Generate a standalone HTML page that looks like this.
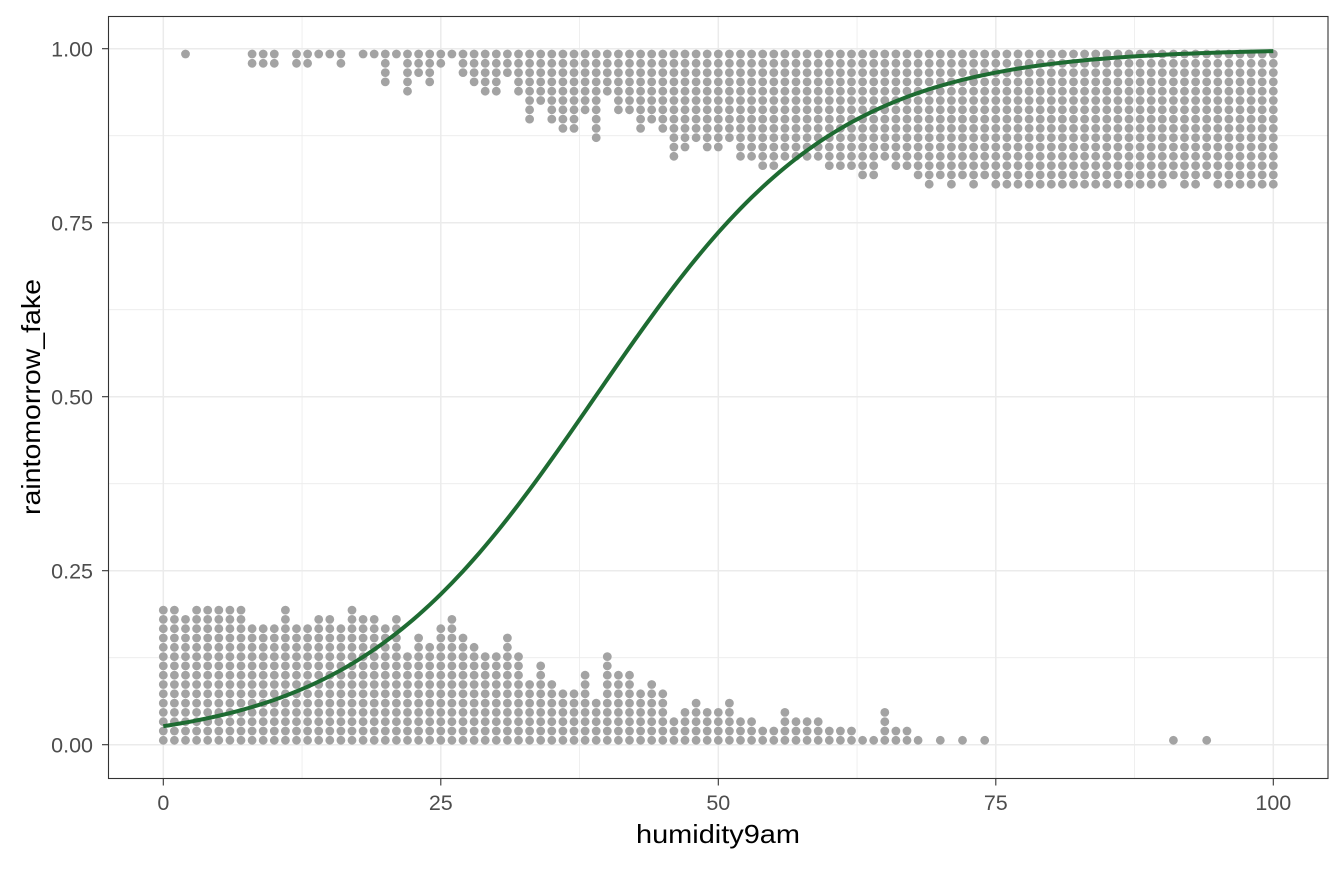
<!DOCTYPE html>
<html><head><meta charset="utf-8"><style>
body{margin:0;background:#fff;font-family:"Liberation Sans",Arial,sans-serif}
svg text{font-family:"Liberation Sans",Arial,sans-serif}
</style></head><body>
<svg id="chart" width="1344" height="864" xmlns="http://www.w3.org/2000/svg">
<rect width="1344" height="864" fill="#fff"/>
<g id="grid"></g>
<g id="dots"></g>
<g id="curve"></g>
<rect x="108.5" y="16.5" width="1219.5" height="762" fill="none" stroke="#333" stroke-width="1.1"/>
<g id="axes"></g>
<text x="718" y="843" text-anchor="middle" font-size="26" textLength="164" lengthAdjust="spacingAndGlyphs" fill="#000">humidity9am</text>
<text transform="translate(40,397) rotate(-90)" text-anchor="middle" font-size="26" textLength="236" lengthAdjust="spacingAndGlyphs" fill="#000">raintomorrow_fake</text>
</svg>
<script>
const xTicks=[0,25,50,75,100];
const yTicks=[0,0.25,0.5,0.75,1];
const yTickLabels=["0.00","0.25","0.50","0.75","1.00"];
// stacked dot counts per humidity value 0..100
const bottomCounts=[15,15,14,15,15,15,15,15,13,13,13,15,13,13,14,14,13,15,14,14,13,14,10,12,11,13,14,12,11,10,10,12,10,7,9,7,6,6,8,5,10,8,8,6,7,6,3,4,5,4,4,5,3,3,2,2,4,3,3,3,2,2,2,1,1,4,2,2,1,0,1,0,1,0,1,0,0,0,0,0,0,0,0,0,0,0,0,0,0,0,0,1,0,0,1,0,0,0,0,0,0];
const topCounts=[0,0,1,0,0,0,0,0,2,2,2,0,2,2,1,1,2,0,1,1,4,1,5,3,4,2,1,3,4,5,5,3,5,8,6,8,9,9,7,10,5,7,7,9,8,9,12,11,10,11,11,10,12,12,13,13,12,12,12,12,13,13,13,14,14,12,13,13,14,15,14,15,14,15,14,15,15,15,15,15,15,15,15,15,15,15,15,15,15,15,15,14,15,15,14,15,15,15,15,15,15];
const fitIntercept=-3.6, fitSlope=0.0925;
const NS="http://www.w3.org/2000/svg";
const X=v=>163.3+v*11.1;
const Y=v=>744.7-v*696;
const step=9.3, r=4.4;
function mk(t,a,p){const e=document.createElementNS(NS,t);for(const k in a)e.setAttribute(k,a[k]);p.appendChild(e);return e;}
const grid=document.getElementById('grid');
for(let i=0;i<yTicks.length-1;i++){const m=(yTicks[i]+yTicks[i+1])/2;
 const l=mk('line',{x1:109,x2:1328,y1:Y(m),y2:Y(m),stroke:'#ebebeb','stroke-width':0.8},grid);
 }
for(let i=0;i<xTicks.length-1;i++){const m=(xTicks[i]+xTicks[i+1])/2;
 const l=mk('line',{x1:X(m),x2:X(m),y1:17,y2:778,stroke:'#ebebeb','stroke-width':0.8},grid);
 }
const axes=document.getElementById('axes');
yTicks.forEach((v,i)=>{
 const l=mk('line',{x1:109,x2:1328,y1:Y(v),y2:Y(v),stroke:'#ebebeb','stroke-width':1.5},grid);
 
 const t=mk('line',{x1:102,x2:108.5,y1:Y(v),y2:Y(v),stroke:'#333','stroke-width':1.1},axes);
 
 const tx=mk('text',{x:93,y:Y(v)+8,'text-anchor':'end','font-size':21.5,fill:'#4d4d4d'},axes);
 tx.textContent=yTickLabels[i];
 
});
xTicks.forEach(v=>{
 const l=mk('line',{x1:X(v),x2:X(v),y1:17,y2:778,stroke:'#ebebeb','stroke-width':1.5},grid);
 
 const t=mk('line',{x1:X(v),x2:X(v),y1:779,y2:785.5,stroke:'#333','stroke-width':1.1},axes);
 
 const tx=mk('text',{x:X(v),y:810,'text-anchor':'middle','font-size':21.5,fill:'#4d4d4d'},axes);
 tx.textContent=String(v);
 
});
const dots=document.getElementById('dots');
bottomCounts.forEach((n,x)=>{for(let k=0;k<n;k++){
 const c=mk('circle',{cx:X(x),cy:740.3-k*step,r:r,fill:'#a3a3a3'},dots);
 }});
topCounts.forEach((n,x)=>{for(let k=0;k<n;k++){
 const c=mk('circle',{cx:X(x),cy:54+k*step,r:r,fill:'#a3a3a3'},dots);
 }});
let d='';
for(let i=0;i<=200;i++){const x=i/2;const p=1/(1+Math.exp(-(fitIntercept+fitSlope*x)));d+=(i?'L':'M')+X(x).toFixed(2)+','+Y(p).toFixed(2);}
const path=mk('path',{d:d,fill:'none',stroke:'#1e6b32','stroke-width':4,'stroke-linecap':'butt'},document.getElementById('curve'));


</script>
</body></html>
